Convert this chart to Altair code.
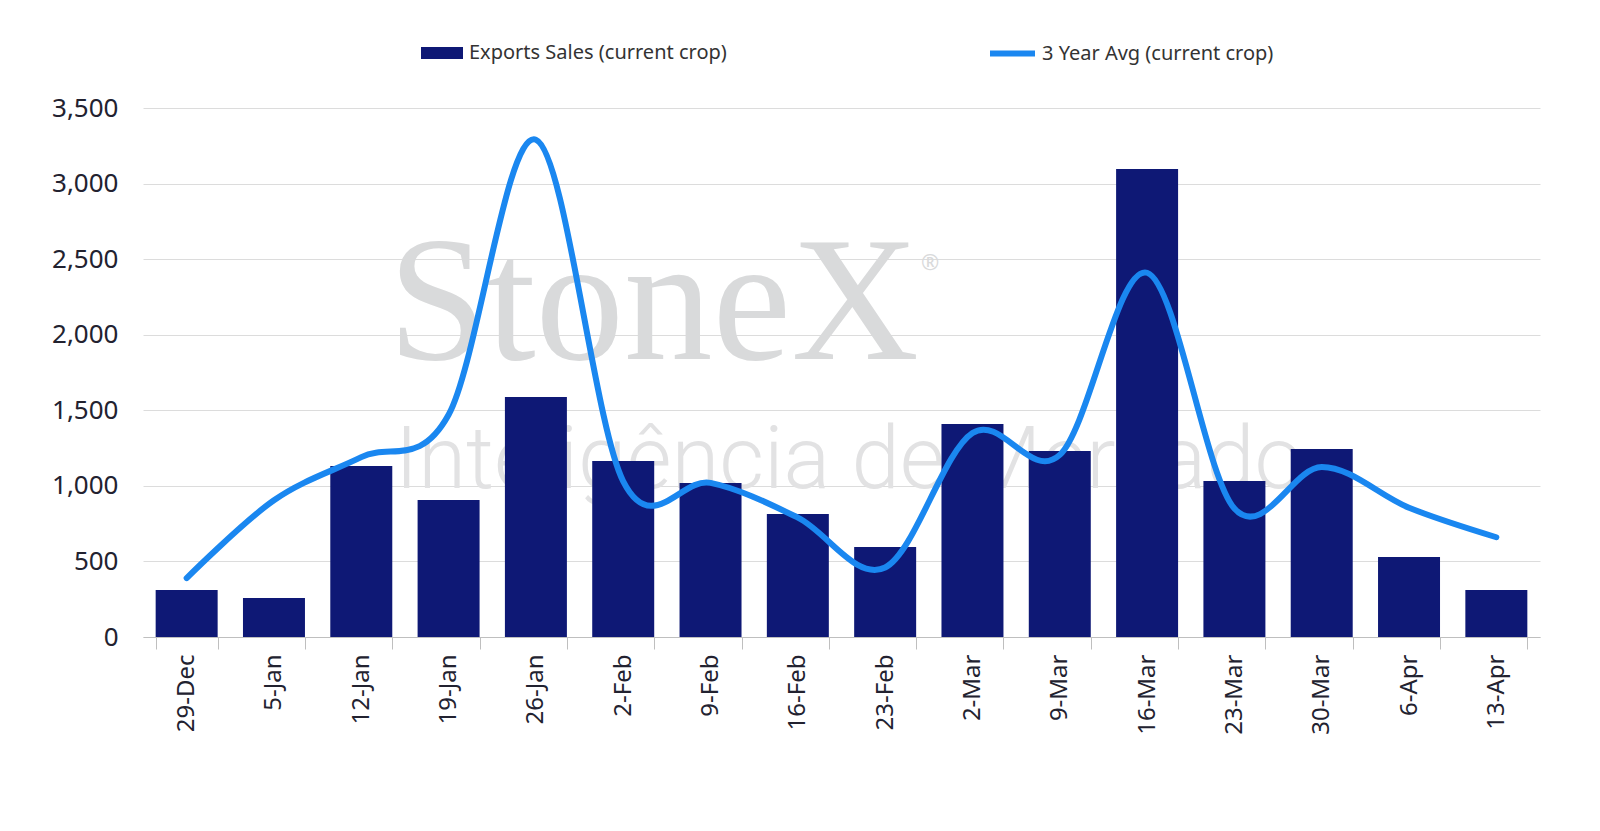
import altair as alt
import pandas as pd

weeks = ["29-Dec", "5-Jan", "12-Jan", "19-Jan", "26-Jan", "2-Feb", "9-Feb", "16-Feb",
         "23-Feb", "2-Mar", "9-Mar", "16-Mar", "23-Mar", "30-Mar", "6-Apr", "13-Apr"]
export_sales = [311, 258, 1131, 906, 1588, 1165, 1019, 814,
                596, 1410, 1231, 3097, 1032, 1244, 529, 311]
three_year_avg = [390, 905, 1190, 1470, 3290, 1030, 1020, 790,
                  460, 1350, 1205, 2410, 850, 1125, 855, 660]
series_names = ["Exports Sales (current crop)", "3 Year Avg (current crop)"]
y_ticks = [0, 500, 1000, 1500, 2000, 2500, 3000, 3500]
watermark = ["StoneX", "®", "Inteligência de Mercado"]

FONT = "Noto Sans"
BAR_COLOR = "#0e1875"
LINE_COLOR = "#1a87f0"

bars_df = pd.DataFrame({"week": weeks, "value": export_sales, "series": series_names[0]})
line_df = pd.DataFrame({"week": weeks, "value": three_year_avg, "series": series_names[1]})

x_enc = alt.X(
    "week:N", sort=weeks, title=None,
    scale=alt.Scale(paddingInner=0.29, paddingOuter=0.145),
    axis=alt.Axis(labelAngle=270, labelFontSize=24, labelColor="#222230", labelFont=FONT,
                  domainColor="#bfbfbf", tickColor="#bfbfbf", tickSize=12, ticks=True,
                  tickBand="extent", labelPadding=5, grid=False, labelAlign="right",
                  labelBaseline="middle"),
)
y_enc = alt.Y(
    "value:Q", title=None,
    scale=alt.Scale(domain=[0, 3500], nice=False),
    axis=alt.Axis(values=y_ticks, format=",.0f", labelFontSize=26, labelColor="#222230",
                  labelFont=FONT, domain=False, ticks=False, labelPadding=25,
                  gridColor="#dcdcdc", gridWidth=1),
)

wm_big = alt.Chart(pd.DataFrame({"t": [watermark[0]]})).mark_text(
    font="Liberation Serif", fontSize=177, color="#d9dadb", align="left", baseline="alphabetic"
).encode(text="t:N", x=alt.value(245), y=alt.value(251))

wm_reg = alt.Chart(pd.DataFrame({"t": [watermark[1]]})).mark_text(
    font=FONT, fontSize=22, color="#d9dadb", align="left", baseline="alphabetic"
).encode(text="t:N", x=alt.value(778), y=alt.value(162))

wm_sub = alt.Chart(pd.DataFrame({"t": [watermark[2]]})).mark_text(
    font="Roboto", fontWeight=300, fontSize=87, color="#e2e2e3", align="left",
    baseline="alphabetic"
).encode(text="t:N", x=alt.value(252), y=alt.value(380))

bars = alt.Chart(bars_df).mark_bar(color=BAR_COLOR).encode(
    x=x_enc, y=y_enc,
    fill=alt.Fill("series:N", scale=alt.Scale(domain=[series_names[0]], range=[BAR_COLOR]),
                  legend=alt.Legend(title=None, orient="none", legendX=278, legendY=-76,
                                    symbolType="M-1,-0.28H1V0.28H-1Z", symbolSize=1764,
                                    symbolStrokeWidth=0, labelFontSize=20, labelFont=FONT,
                                    labelColor="#333333", labelOffset=6, labelLimit=0)),
)

line = alt.Chart(line_df).mark_line(
    interpolate="cardinal", tension=0, strokeWidth=6, strokeCap="round", color=LINE_COLOR
).encode(
    x=alt.X("week:N", sort=weeks),
    y=alt.Y("value:Q"),
    stroke=alt.Stroke("series:N", scale=alt.Scale(domain=[series_names[1]], range=[LINE_COLOR]),
                      legend=alt.Legend(title=None, orient="none", legendX=844, legendY=-80,
                                        symbolType="stroke", symbolSize=2025,
                                        symbolStrokeWidth=6, labelFontSize=20, labelFont=FONT,
                                        labelColor="#333333", labelOffset=4, labelLimit=0)),
)

chart = alt.layer(wm_big, wm_reg, wm_sub, bars, line).resolve_scale(
    fill="independent", stroke="independent"
).properties(
    width=1397, height=529,
    autosize=alt.AutoSizeParams(type="none"),
    padding={"left": 135, "top": 100, "right": 20, "bottom": 130},
    background="white",
).configure_view(stroke=None)

chart.save("out.html", embed_options={"renderer": "svg", "actions": False})
